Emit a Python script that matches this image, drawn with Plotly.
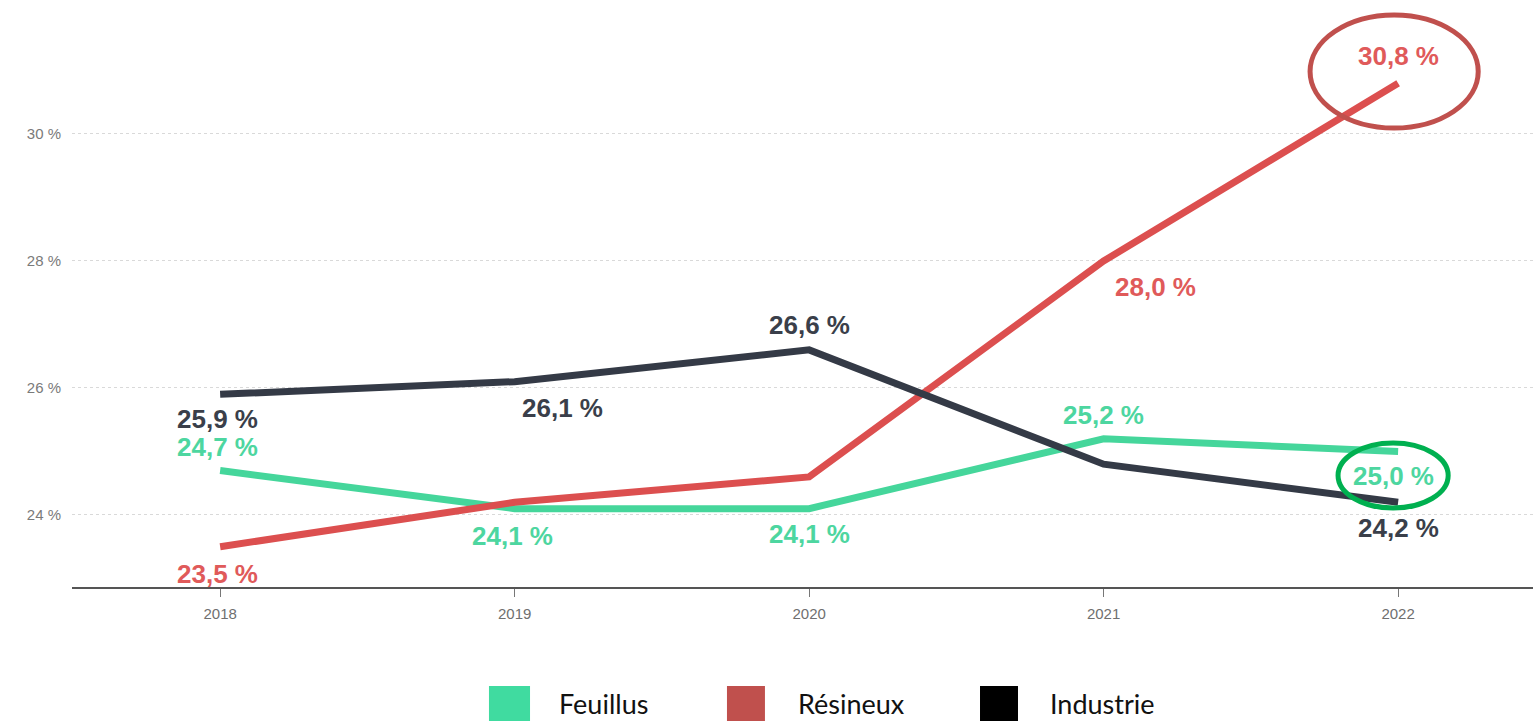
import plotly.graph_objects as go

years = [2018, 2019, 2020, 2021, 2022]
feuillus = [24.7, 24.1, 24.1, 25.2, 25.0]
resineux = [23.5, 24.2, 24.6, 28.0, 30.8]
industrie = [25.9, 26.1, 26.6, 24.8, 24.2]
y_ticks = [24, 26, 28, 30]

series_names = ["Feuillus", "Résineux", "Industrie"]
line_colors = ["#45d69b", "#dc4f4f", "#343a46"]
label_colors = ["#4dd6a0", "#e05a5a", "#3a3f4a"]
legend_colors = ["#40dba0", "#c0504d", "#000000"]

# label placement per point: (xshift px, yshift px) or None for no label
feuillus_lbl = [(-3, 24), (-2, -27), (0, -25), (0, 24), (-5, -25)]
resineux_lbl = [(-3, -27), None, None, (52, -26), (0, 27)]
industrie_lbl = [(-3, -25), (48, -26), (0, 25), None, (0, -26)]

fig = go.Figure()
all_vals = [feuillus, resineux, industrie]
all_lbl = [feuillus_lbl, resineux_lbl, industrie_lbl]

for name, vals, col in zip(series_names, all_vals, line_colors):
    fig.add_trace(go.Scatter(x=years, y=vals, mode="lines", name=name,
                             line=dict(color=col, width=7), showlegend=False))

annotations = []
for vals, lbls, col in zip(all_vals, all_lbl, label_colors):
    for x, v, l in zip(years, vals, lbls):
        if l is None:
            continue
        annotations.append(dict(
            x=x, y=v, xref="x", yref="y", showarrow=False,
            text="<b>" + f"{v:.1f}".replace(".", ",") + " %</b>",
            xshift=l[0], yshift=l[1],
            font=dict(family="Liberation Sans, Arial, sans-serif", size=26, color=col),
            xanchor="center", yanchor="middle"))

# legend (manual, large squares)
leg_x = [(0.2854, 0.3135, 0.332), (0.4483, 0.4743, 0.4956), (0.6215, 0.6475, 0.668)]
shapes = []
for (x0, x1, tx), name, col in zip(leg_x, series_names, legend_colors):
    shapes.append(dict(type="rect", xref="paper", yref="paper", x0=x0, x1=x1,
                       y0=-0.235, y1=-0.1687, fillcolor=col, line=dict(width=0)))
    annotations.append(dict(x=tx, y=-0.1985, xref="paper", yref="paper", showarrow=False,
                            text=name, xanchor="left", yanchor="middle",
                            font=dict(family="Lato, Open Sans, sans-serif", size=27, color="#111")))

# highlight ellipses
shapes.append(dict(type="circle", xref="x", yref="y", x0=2021.701, x1=2022.272,
                   y0=30.094, y1=31.874, line=dict(color="#c0504d", width=5)))
shapes.append(dict(type="circle", xref="x", yref="y", x0=2021.796, x1=2022.170,
                   y0=24.110, y1=25.134, line=dict(color="#00b050", width=5)))

fig.update_layout(
    width=1533, height=721,
    margin=dict(l=72, r=0, t=0, b=134),
    plot_bgcolor="white", paper_bgcolor="white",
    annotations=annotations, shapes=shapes,
    xaxis=dict(range=[2017.497, 2022.458], tickvals=years, ticktext=[str(y) for y in years],
               showgrid=False, showline=True, linecolor="#555", linewidth=1.5,
               ticks="outside", ticklen=8, tickcolor="#777", zeroline=False,
               ticklabelstandoff=4,
               tickfont=dict(family="Liberation Sans, Arial", size=15, color="#6f6f6f")),
    yaxis=dict(range=[22.866, 32.11], tickvals=y_ticks, ticktext=[f"{t} %" for t in y_ticks],
               showgrid=True, gridcolor="#d9d9d9", griddash="dot", gridwidth=1,
               zeroline=False, showline=False, ticks="", ticklabelstandoff=10,
               tickfont=dict(family="Liberation Sans, Arial", size=15, color="#7a7a7a")),
)

fig.write_html("out.html", config={"displayModeBar": False},
               post_script="document.body.style.margin='0';document.body.style.overflow='hidden';")
